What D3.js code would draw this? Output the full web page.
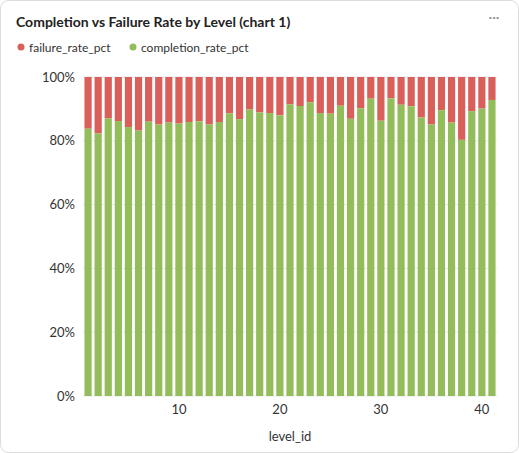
<!DOCTYPE html><html><head><script src="https://cdn.jsdelivr.net/npm/d3@7"></script>
<style>body{margin:0;background:#fff;font-family:Lato,"Noto Sans",sans-serif}</style></head><body><svg id="c" width="519" height="453"></svg>
<script>
const levels=d3.range(1,42);
const completion=[83.8,82.3,87,86.2,84.3,83.2,86,85.1,85.7,85.4,85.9,86.1,85.1,85.9,88.6,86.8,89.8,88.9,88.7,88,91.4,90.9,92.1,88.7,88.5,91,86.9,90.2,93.2,86.3,93.3,91.3,90.8,87.3,85.1,89.6,85.7,80.3,89.3,90.1,92.8];
const failure=completion.map(c=>+(100-c).toFixed(1));
const yTicks=[0,20,40,60,80,100];
const xTicks=[10,20,30,40];
const svg=d3.select("#c");
svg.append("rect").attr("x",0.5).attr("y",0.5).attr("width",518).attr("height",452).attr("rx",8).attr("fill","#fff").attr("stroke","#dcdcdc");
svg.append("text").attr("x",16).attr("y",27).attr("font-size",14).attr("font-weight",700).attr("fill","#222").text("Completion vs Failure Rate by Level (chart 1)");
svg.append("text").attr("x",494).attr("y",22).attr("font-size",14).attr("fill","#888").attr("text-anchor","middle").text("···");
const leg=[["failure_rate_pct","#d95f5b",21],["completion_rate_pct","#93bd5b",133]];
leg.forEach(([t,c,x])=>{svg.append("circle").attr("cx",x).attr("cy",47).attr("r",3.5).attr("fill",c);
svg.append("text").attr("x",x+8).attr("y",51.5).attr("font-size",12).attr("fill","#333").text(t);});
const x=d3.scaleLinear().domain([0.5,41.5]).range([83,497]);
const y=d3.scaleLinear().domain([0,100]).range([396,77]);
svg.append("g").selectAll("line").data(yTicks).join("line").attr("x1",83).attr("x2",497).attr("y1",d=>y(d)).attr("y2",d=>y(d)).attr("stroke","#e8e8e8");
const bw=7.2;
svg.append("g").selectAll("rect").data(levels).join("rect").attr("x",d=>x(d)-bw/2).attr("width",bw).attr("y",(d,i)=>y(100)).attr("height",(d,i)=>y(completion[i])-y(100)).attr("fill","#d95f5b");
svg.append("g").selectAll("rect").data(levels).join("rect").attr("x",d=>x(d)-bw/2).attr("width",bw).attr("y",(d,i)=>y(completion[i])).attr("height",(d,i)=>y(0)-y(completion[i])).attr("fill","#93bd5b");
svg.append("g").selectAll("text").data(yTicks).join("text").attr("x",75).attr("y",d=>y(d)+4.5).attr("text-anchor","end").attr("font-size",13).attr("fill","#333").text(d=>d+"%");
svg.append("g").selectAll("text").data(xTicks).join("text").attr("x",d=>x(d)).attr("y",414).attr("text-anchor","middle").attr("font-size",13).attr("fill","#333").text(d=>d);
svg.append("text").attr("x",290).attr("y",441).attr("text-anchor","middle").attr("font-size",13).attr("fill","#333").text("level_id");
</script></body></html>
